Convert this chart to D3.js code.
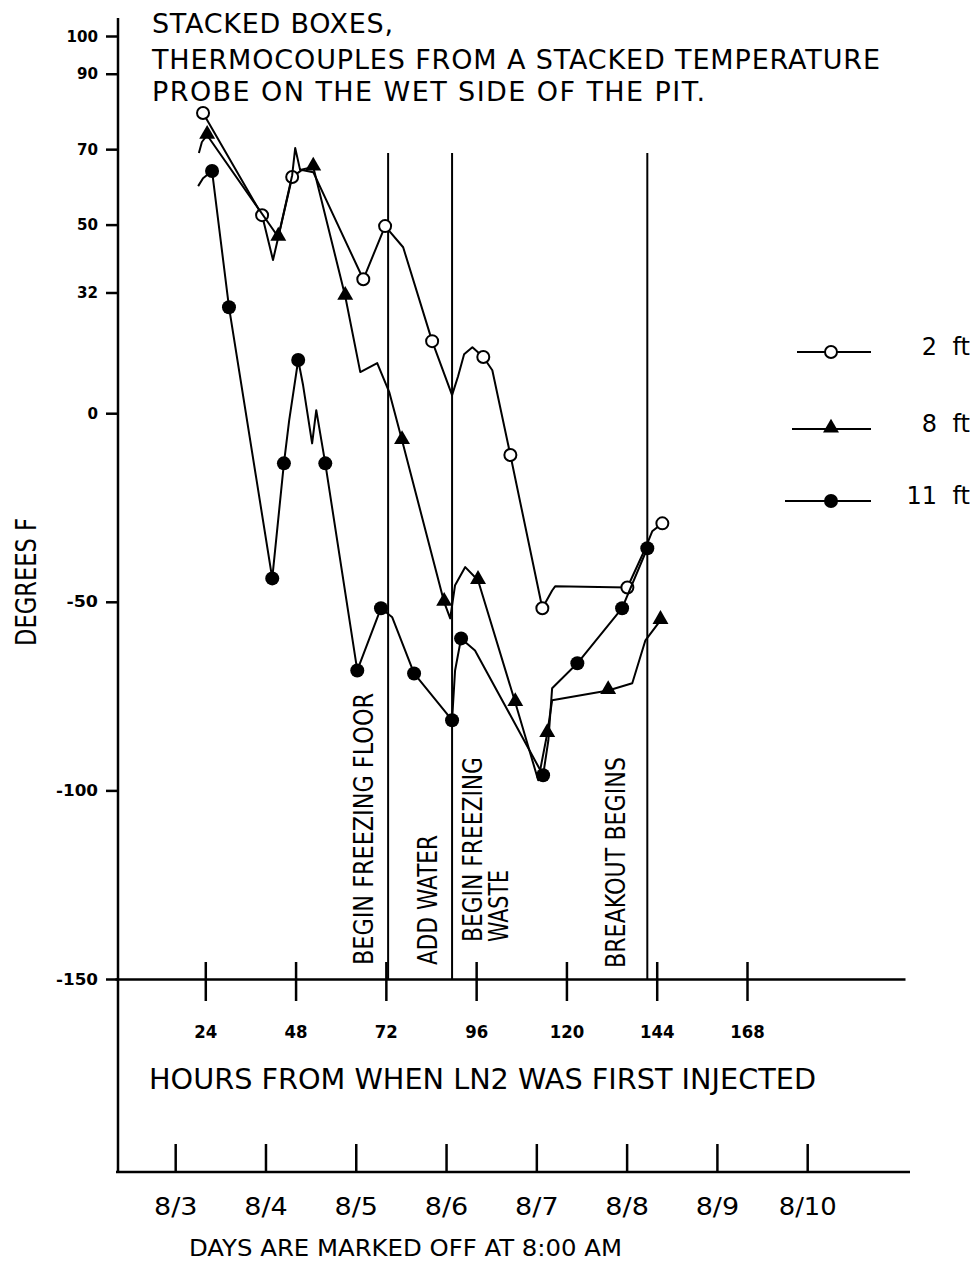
<!DOCTYPE html>
<meta charset="utf-8">
<style>

body {
  margin: 0;
  background: #fff;
}

svg {
  font-family: "DejaVu Sans", sans-serif;
}

.axis path,
.axis line {
  stroke: #000;
  stroke-width: 2.5;
}

.axis text {
  font-family: "DejaVu Sans", sans-serif;
  fill: #000;
}

.series {
  fill: none;
  stroke: #000;
  stroke-width: 2;
  stroke-linejoin: round;
}

</style>
<body>
<script src="https://d3js.org/d3.v7.min.js"></script>
<script>

var width = 977,
    height = 1265;

// [hours, degrees F, 1 = plotted symbol / 0 = bend in the trace]
var twoFt = [
  [23.4, 79.6, 1], [39.1, 52.5, 1], [42.0, 40.6, 0], [47.1, 62.6, 1],
  [49.7, 64.5, 0], [52.7, 63.9, 0], [66.0, 35.5, 1], [71.8, 49.6, 1],
  [76.6, 44.0, 0], [84.3, 19.1, 1], [89.6, 4.8, 0], [91.2, 9.8, 0],
  [92.8, 15.6, 0], [95.0, 17.5, 0], [97.9, 14.9, 1], [100.3, 11.4, 0],
  [105.1, -11.1, 1], [113.6, -51.7, 1], [116.2, -47.0, 0], [117.0, -45.9, 0],
  [136.2, -46.2, 1], [141.0, -35.8, 0], [142.8, -31.3, 0], [145.5, -29.2, 1]
];

var eightFt = [
  [22.3, 69.0, 0], [23.1, 71.9, 0], [24.5, 73.7, 1], [43.4, 46.7, 1],
  [47.1, 63.1, 0], [47.9, 70.3, 0], [49.2, 64.5, 0], [52.7, 65.3, 1],
  [61.2, 31.0, 1], [65.2, 10.9, 0], [69.7, 13.3, 0], [72.9, 5.6, 0],
  [76.3, -7.2, 1], [87.5, -50.1, 1], [89.1, -54.4, 0], [90.4, -45.6, 0],
  [93.1, -40.8, 0], [96.5, -44.3, 1], [106.4, -76.7, 1], [112.5, -97.3, 0],
  [114.9, -84.9, 1], [116.2, -76.1, 0], [131.1, -73.5, 1], [137.5, -71.6, 0],
  [141.0, -60.2, 0], [145.0, -54.9, 1]
];

var elevenFt = [
  [22.1, 60.2, 0], [23.4, 62.3, 0], [25.8, 64.2, 1], [30.3, 28.1, 1],
  [41.8, -43.8, 1], [44.9, -13.3, 1], [46.3, -1.9, 0], [48.7, 14.1, 1],
  [50.0, 7.4, 0], [52.4, -8.0, 0], [53.5, 0.8, 0], [55.9, -13.3, 1],
  [64.4, -68.2, 1], [70.7, -51.7, 1], [73.7, -54.1, 0], [79.5, -69.0, 1],
  [89.6, -81.4, 1], [90.4, -68.2, 0], [92.0, -59.7, 1], [95.7, -62.9, 0],
  [113.8, -96.0, 1], [115.2, -86.7, 0], [116.2, -72.9, 0], [122.9, -66.3, 1],
  [134.8, -51.7, 1], [141.5, -35.8, 1]
];

var seriesNames = ["2 ft", "8 ft", "11 ft"];
var seriesSymbols = ["open", "triangle", "dot"];

var yTicks = [100, 90, 70, 50, 32, 0, -50, -100, -150];
var hourTicks = [24, 48, 72, 96, 120, 144, 168];
var dayHours = [16, 40, 64, 88, 112, 136, 160, 184];
var dayLabels = ["8/3", "8/4", "8/5", "8/6", "8/7", "8/8", "8/9", "8/10"];

// event lines (hours) and their labels
var eventHours = [72.6, 89.6, 141.5];
var eventLabels = ["BEGIN FREEZING FLOOR", "ADD WATER", "BEGIN FREEZING", "WASTE", "BREAKOUT BEGINS"];

var titleLines = [
  "STACKED BOXES,",
  "THERMOCOUPLES FROM A STACKED TEMPERATURE",
  "PROBE ON THE WET SIDE OF THE PIT."
];

var x = d3.scaleLinear()
    .domain([0, 210])
    .range([115, 905]);

var y = d3.scaleLinear()
    .domain([-150, 100])
    .range([979, 36]);

var svg = d3.select("body").append("svg")
    .attr("width", width)
    .attr("height", height);

function label(g, str, px, py, size, len, rot, adjust) {
  var t = g.append("text")
      .attr("font-size", size)
      .attr("textLength", len)
      .attr("lengthAdjust", adjust || "spacingAndGlyphs")
      .text(str);
  if (rot) {
    t.attr("transform", "translate(" + px + "," + py + ") rotate(-90)");
  } else {
    t.attr("x", px).attr("y", py);
  }
  return t;
}

// title
var titleY = [33, 69, 101],
    titleLen = [241, 728, 553];
titleLines.forEach(function(s, i) {
  label(svg, s, 152, titleY[i], 27, titleLen[i], false, "spacing");
});

// y axis
var yAxis = d3.axisLeft(y)
    .tickValues(yTicks)
    .tickSize(12)
    .tickPadding(8)
    .tickFormat(function(d) { return d < 0 ? "-" + Math.abs(d) : d; });

var gy = svg.append("g")
    .attr("class", "axis")
    .attr("transform", "translate(118,0)")
    .call(yAxis);
gy.select(".domain").remove();
gy.selectAll("text")
    .style("font-size", "16px")
    .style("font-weight", "bold")
    .attr("textLength", function(d) { return String(d).length * 10.5; })
    .attr("lengthAdjust", "spacingAndGlyphs");

svg.append("line")
    .attr("x1", 118).attr("x2", 118)
    .attr("y1", 18).attr("y2", 1173)
    .attr("stroke", "#000")
    .attr("stroke-width", 2.5);

label(svg, "DEGREES F", 36, 646, 28, 128, true);

// hours axis
var hourAxis = d3.axisBottom(x)
    .tickValues(hourTicks)
    .tickSizeInner(22)
    .tickSizeOuter(0)
    .tickPadding(24);

var gh = svg.append("g")
    .attr("class", "axis")
    .attr("transform", "translate(0," + y(-150) + ")")
    .call(hourAxis);
gh.selectAll(".tick line").attr("y1", -17);
gh.selectAll("text")
    .style("font-size", "18px")
    .style("font-weight", "bold")
    .attr("textLength", function(d) { return String(d).length * 11.5; })
    .attr("lengthAdjust", "spacingAndGlyphs");

label(svg, "HOURS FROM WHEN LN2 WAS FIRST INJECTED", 149, 1089, 29, 667);

// days axis
var dayAxis = d3.axisBottom(x)
    .tickValues(dayHours)
    .tickFormat(function(d, i) { return dayLabels[i]; })
    .tickSizeInner(-28)
    .tickSizeOuter(0)
    .tickPadding(25);

var gd = svg.append("g")
    .attr("class", "axis")
    .attr("transform", "translate(0,1172)")
    .call(dayAxis);
gd.select(".domain").remove();
gd.append("line")
    .attr("x1", 116).attr("x2", 910)
    .attr("stroke", "#000");
gd.selectAll("text")
    .style("font-size", "25px")
    .attr("textLength", function(d, i) { return dayLabels[i].length * 14.5; })
    .attr("lengthAdjust", "spacingAndGlyphs");

label(svg, "DAYS ARE MARKED OFF AT 8:00 AM", 189, 1256, 23, 433);

// event lines
svg.selectAll(".event")
    .data(eventHours)
  .enter().append("line")
    .attr("class", "event")
    .attr("x1", function(d) { return x(d); })
    .attr("x2", function(d) { return x(d); })
    .attr("y1", y(69))
    .attr("y2", y(-150))
    .attr("stroke", "#000")
    .attr("stroke-width", 2);

// event labels: [event index, x offset, bottom y, length]
var labelPos = [[0, -15, 965, 272], [1, -15, 965, 130], [1, 30, 942, 185], [1, 56, 942, 72], [2, -22, 968, 211]];
eventLabels.forEach(function(s, i) {
  var p = labelPos[i];
  label(svg, s, x(eventHours[p[0]]) + p[1], p[2], 27, p[3], true);
});

// series
var line = d3.line()
    .x(function(d) { return x(d[0]); })
    .y(function(d) { return y(d[1]); });

function drawSymbol(g, kind, cx, cy) {
  if (kind === "open") {
    g.append("circle").attr("cx", cx).attr("cy", cy).attr("r", 6)
        .attr("fill", "#fff").attr("stroke", "#000").attr("stroke-width", 2);
  } else if (kind === "dot") {
    g.append("circle").attr("cx", cx).attr("cy", cy).attr("r", 7)
        .attr("fill", "#000");
  } else {
    g.append("path")
        .attr("d", d3.symbol().type(d3.symbolTriangle).size(110)())
        .attr("transform", "translate(" + cx + "," + (cy - 1) + ")")
        .attr("fill", "#000");
  }
}

[twoFt, eightFt, elevenFt].forEach(function(data, i) {
  var g = svg.append("g");
  g.append("path")
      .datum(data)
      .attr("class", "series")
      .attr("d", line);
  data.filter(function(d) { return d[2] === 1; }).forEach(function(d) {
    drawSymbol(g, seriesSymbols[i], x(d[0]), y(d[1]));
  });
});

// legend
var legY = [352, 429, 501],
    legX1 = [797, 792, 785];
seriesNames.forEach(function(s, i) {
  var g = svg.append("g");
  g.append("line")
      .attr("x1", legX1[i]).attr("x2", 871)
      .attr("y1", legY[i]).attr("y2", legY[i])
      .attr("stroke", "#000").attr("stroke-width", 2);
  drawSymbol(g, seriesSymbols[i], 831, legY[i]);
  g.append("text")
      .attr("x", 970)
      .attr("y", legY[i] + 3)
      .attr("text-anchor", "end")
      .attr("font-size", 24)
      .attr("word-spacing", 8)
      .text(s);
});

</script>
